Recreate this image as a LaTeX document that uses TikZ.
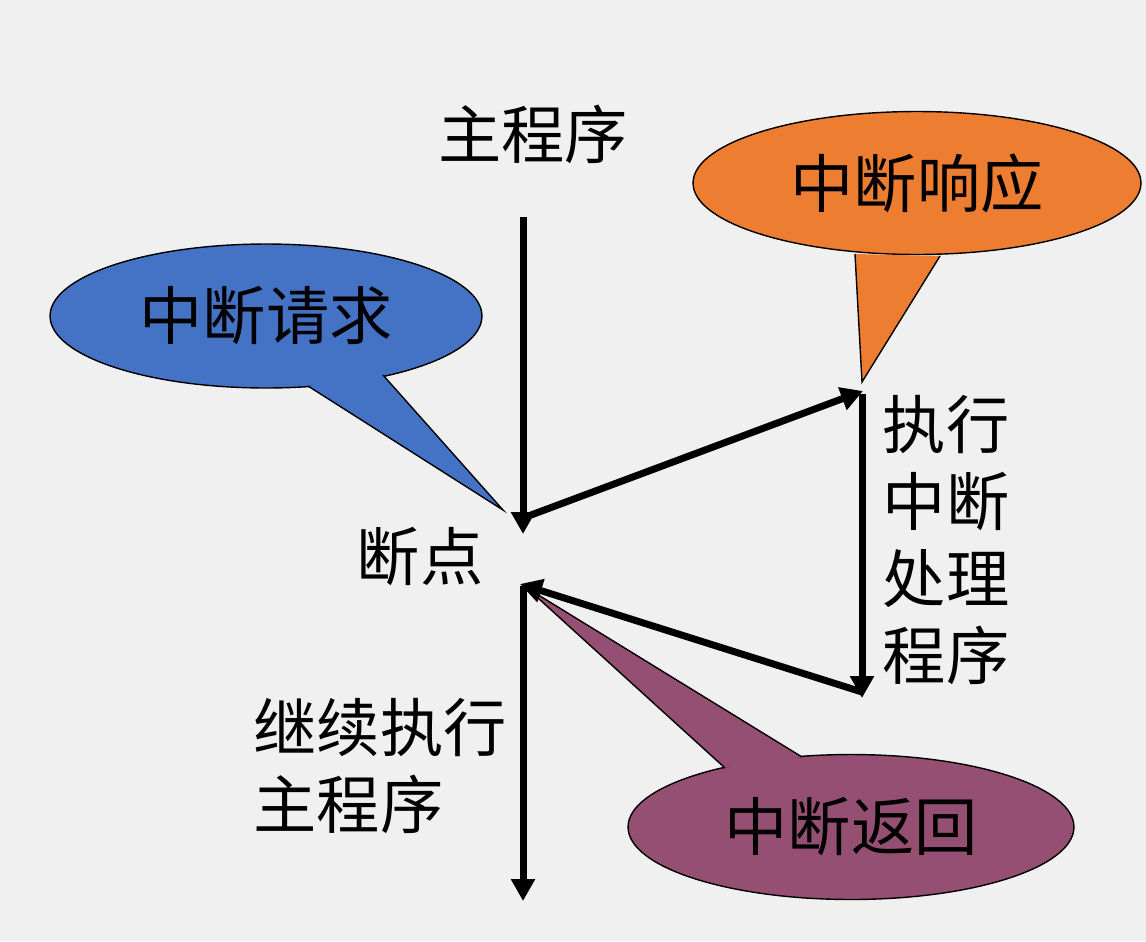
\documentclass[tikz,border=0pt]{standalone}
\usepackage{fontspec}
\newfontfamily\cjk{Noto Sans CJK SC}
\usetikzlibrary{shapes.geometric,arrows.meta}
\definecolor{bg}{HTML}{F0F0F0}
\definecolor{cblue}{HTML}{4472C4}
\definecolor{corange}{HTML}{ED7D31}
\definecolor{cpurple}{HTML}{954F72}
\begin{document}
\begin{tikzpicture}[x=0.02cm,y=-0.02cm,
  lbl/.style={font=\cjk\fontsize{36}{44}\selectfont, inner sep=0pt},
  bubble/.style={ellipse, draw=black, line width=0.8pt, inner sep=0pt, font=\cjk\fontsize{36}{44}\selectfont},
  flow/.style={line width=0.14cm, -{Triangle[length=0.44cm,width=0.46cm]}},
  ptr/.style={draw=black, line width=0.8pt, line join=miter}
]
\fill[bg] (0,0) rectangle (1146,941);
\useasboundingbox (0,0) rectangle (1146,941);

% callouts
\node[bubble, fill=cblue, minimum width=8.64cm, minimum height=2.88cm] (req) at (266,316) {中断请求};
\fill[cblue] (308,386) -- (503,510) -- (383,375) -- cycle;
\draw[ptr] (308,386) -- (503,510) -- (383,375);

\node[bubble, fill=corange, minimum width=8.96cm, minimum height=2.86cm] (resp) at (917,183) {中断响应};
\fill[corange] (855,254) -- (862,382) -- (940,256) -- cycle;
\draw[ptr] (855,254) -- (862,382) -- (940,256);

\node[bubble, fill=cpurple, minimum width=8.92cm, minimum height=2.9cm] (ret) at (851,827) {中断返回};
\fill[cpurple] (725,768) -- (527,588) -- (802,757) -- cycle;
\draw[ptr] (725,768) -- (527,588) -- (802,757);

% coordinates of flow
\coordinate (top) at (523,217);
\coordinate (bpin) at (523,534);
\coordinate (bpcorner) at (523,518);
\coordinate (isrtop) at (863,391);
\coordinate (isrstart) at (862,394);
\coordinate (isrend) at (862,698);
\coordinate (isrcorner) at (862,692);
\coordinate (bpout) at (520,584);
\coordinate (bpstart) at (523,586);
\coordinate (bottom) at (523,901);

\draw[flow] (top) -- (bpin);
\draw[flow] (bpcorner) -- (isrtop);
\draw[flow] (isrstart) -- (isrend);
\draw[flow] (isrcorner) -- (bpout);
\draw[flow] (bpstart) -- (bottom);

% labels
\node[lbl] (mainlbl) at (533,134) {主程序};
\node[lbl] (bplbl) at (420,557) {断点};
\node[lbl, align=left] (contlbl) at (380,766) {继续执行\\主程序};
\node[lbl, align=left] (isrlbl) at (946,540) {执行\\中断\\处理\\程序};
\end{tikzpicture}
\end{document}
